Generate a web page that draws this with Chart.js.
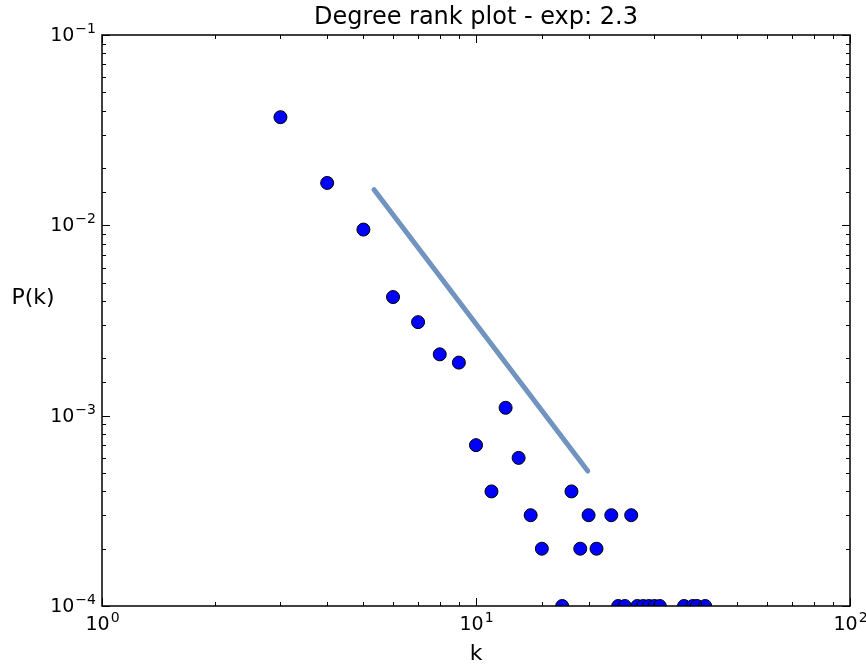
<!DOCTYPE html>
<html>
<head>
<meta charset="utf-8">
<script src="https://cdn.jsdelivr.net/npm/chart.js@4.4.1/dist/chart.umd.min.js"></script>
<style>
  body { margin: 0; background: #fff; }
</style>
</head>
<body>
<canvas id="degree-rank" width="866" height="669"></canvas>
<script>
// degree k and its probability P(k)
const degree = [3, 4, 5, 6, 7, 8, 9, 10, 11, 12, 13, 14, 15, 17, 18, 19, 20, 21, 23, 24, 25, 26,
                27, 28, 29, 30, 31, 36, 38, 39, 41];
const probability = [0.037, 0.0167, 0.0095, 0.0042, 0.0031, 0.0021, 0.0019, 0.0007, 0.0004, 0.0011,
                     0.0006, 0.0003, 0.0002, 0.0001, 0.0004, 0.0002, 0.0003, 0.0002, 0.0003, 0.0001,
                     0.0001, 0.0003, 0.0001, 0.0001, 0.0001, 0.0001, 0.0001, 0.0001, 0.0001, 0.0001,
                     0.0001];
// power-law fit, end points
const fitDegree = [5.34, 19.9];
const fitProbability = [0.0154, 0.000512];

const xRange = [1, 100];
const yRange = [0.0001, 0.1];

function isDecade(v) {
    const e = Math.log10(v);
    return Math.abs(e - Math.round(e)) < 1e-6;
}

// "10" with a raised exponent, like matplotlib mathtext
function drawPow(ctx, v, x, y, align) {
    const e = String(Math.round(Math.log10(v))).replace("-", "\u2212");
    ctx.font = "19px 'DejaVu Sans'";
    const w1 = ctx.measureText("10").width;
    ctx.font = "14px 'DejaVu Sans'";
    const w2 = ctx.measureText(e).width;
    const total = w1 + 1 + w2;
    const start = align === "center" ? x - total / 2 : x - total;
    ctx.textAlign = "left";
    ctx.textBaseline = "middle";
    ctx.font = "19px 'DejaVu Sans'";
    ctx.fillText("10", start, y);
    ctx.font = "14px 'DejaVu Sans'";
    ctx.fillText(e, start + w1 + 1, y - 7);
}

// inward ticks on all four sides, frame and labels, matplotlib classic look
const frameTicks = {
    id: "frameTicks",
    afterDraw(chart) {
        const { ctx, chartArea: a, scales } = chart;
        ctx.save();
        ctx.strokeStyle = "#000";
        ctx.fillStyle = "#000";
        ctx.lineWidth = 1;
        scales.x.ticks.forEach(t => {
            const px = Math.round(scales.x.getPixelForValue(t.value)) + 0.5;
            const len = isDecade(t.value) ? 8 : 4;
            ctx.beginPath();
            ctx.moveTo(px, a.bottom); ctx.lineTo(px, a.bottom - len);
            ctx.moveTo(px, a.top); ctx.lineTo(px, a.top + len);
            ctx.stroke();
            if (isDecade(t.value)) drawPow(ctx, t.value, px, a.bottom + 19, "center");
        });
        scales.y.ticks.forEach(t => {
            const py = Math.round(scales.y.getPixelForValue(t.value)) + 0.5;
            const len = isDecade(t.value) ? 8 : 4;
            ctx.beginPath();
            ctx.moveTo(a.left, py); ctx.lineTo(a.left + len, py);
            ctx.moveTo(a.right, py); ctx.lineTo(a.right - len, py);
            ctx.stroke();
            if (isDecade(t.value)) drawPow(ctx, t.value, a.left - 6, py + 1, "right");
        });
        ctx.lineWidth = 1.5;
        ctx.strokeRect(a.left, a.top, a.right - a.left, a.bottom - a.top);
        // horizontal y label like matplotlib
        ctx.font = "22px 'DejaVu Sans'";
        ctx.textAlign = "center";
        ctx.textBaseline = "middle";
        ctx.fillText("P(k)", 33, 298);
        ctx.restore();
    }
};

new Chart("degree-rank", {
    type: "scatter",
    data: {
        datasets: [
            {
                label: "P(k)",
                data: degree.map((k, i) => ({ x: k, y: probability[i] })),
                backgroundColor: "#0000ff",
                borderColor: "#000",
                borderWidth: 1,
                pointRadius: 6.5,
                clip: 0
            },
            {
                label: "fit",
                data: fitDegree.map((k, i) => ({ x: k, y: fitProbability[i] })),
                showLine: true,
                borderColor: "#7093bf",
                borderWidth: 5,
                borderCapStyle: "round",
                pointRadius: 0,
                clip: 0
            }
        ]
    },
    options: {
        responsive: false,
        animation: false,
        layout: { padding: { left: 0, right: 16, top: 0, bottom: 0 } },
        plugins: {
            legend: { display: false },
            tooltip: { enabled: false },
            title: {
                display: true,
                fullSize: false,
                text: "Degree rank plot - exp: 2.3",
                color: "#000",
                font: { family: "DejaVu Sans", size: 24, weight: "normal", lineHeight: 1.2 },
                padding: { top: 3, bottom: 3.2 }
            }
        },
        scales: {
            x: {
                type: "logarithmic",
                min: xRange[0],
                max: xRange[1],
                grid: { display: false },
                border: { display: false },
                ticks: { display: false, autoSkip: false },
                title: {
                    display: true,
                    text: "k",
                    color: "#000",
                    font: { family: "DejaVu Sans", size: 22 },
                    padding: { top: 0, bottom: 2 }
                },
                afterFit: s => { s.height = 63; s.paddingLeft = 0; s.paddingRight = 0; }
            },
            y: {
                type: "logarithmic",
                min: yRange[0],
                max: yRange[1],
                grid: { display: false },
                border: { display: false },
                ticks: { display: false, autoSkip: false },
                afterFit: s => { s.width = 102; s.paddingTop = 0; s.paddingBottom = 0; }
            }
        }
    },
    plugins: [frameTicks]
});
</script>
</body>
</html>
